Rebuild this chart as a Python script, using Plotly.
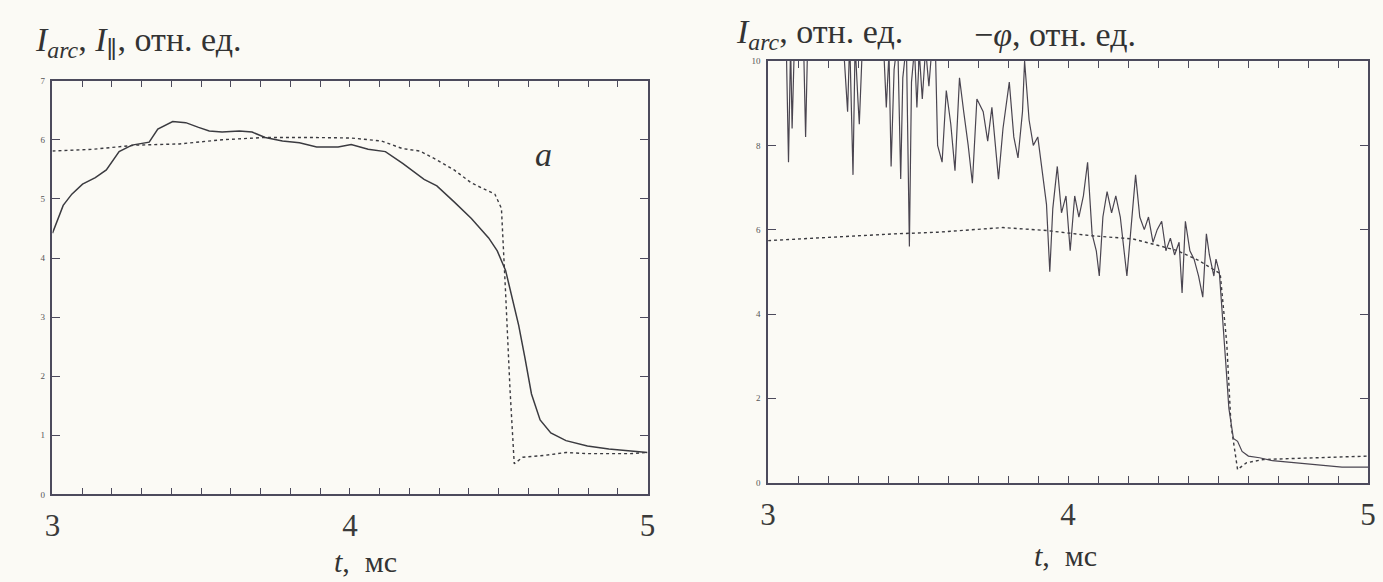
import plotly.graph_objects as go

# ---------- data ----------
# panel a: I_arc (solid) and I_|| (dashed), relative units, t in ms
t_arc_a = [3.000, 3.036, 3.065, 3.101, 3.144, 3.181, 3.224, 3.267, 3.325, 3.354,
           3.404, 3.448, 3.491, 3.527, 3.570, 3.628, 3.671, 3.715, 3.773, 3.830,
           3.888, 3.960, 4.004, 4.061, 4.119, 4.177, 4.249, 4.292, 4.350, 4.408,
           4.466, 4.495, 4.523, 4.545, 4.567, 4.588, 4.610, 4.639, 4.675, 4.726,
           4.798, 4.870, 4.942, 5.000]
i_arc_a = [4.42, 4.89, 5.08, 5.25, 5.36, 5.49, 5.80, 5.91, 5.96, 6.18,
           6.31, 6.29, 6.21, 6.15, 6.13, 6.15, 6.13, 6.04, 5.98, 5.95,
           5.88, 5.88, 5.92, 5.84, 5.80, 5.60, 5.33, 5.22, 4.95, 4.67,
           4.34, 4.12, 3.79, 3.30, 2.86, 2.31, 1.70, 1.26, 1.04, 0.91,
           0.82, 0.77, 0.73, 0.71]

t_par_a = [3.000, 3.137, 3.282, 3.426, 3.570, 3.715, 3.859, 4.004, 4.105, 4.177,
           4.235, 4.292, 4.350, 4.408, 4.487, 4.509, 4.523, 4.538, 4.552, 4.581,
           4.653, 4.726, 4.798, 4.870, 4.942, 5.000]
i_par_a = [5.81, 5.84, 5.91, 5.93, 6.00, 6.04, 6.04, 6.03, 5.98, 5.85,
           5.81, 5.66, 5.49, 5.27, 5.08, 4.84, 3.41, 1.76, 0.52, 0.63,
           0.66, 0.71, 0.69, 0.69, 0.69, 0.71]

# panel b: I_arc (solid, noisy) and -phi (dashed)
t_arc_b = [3.000, 3.060, 3.068, 3.075, 3.080, 3.088, 3.118, 3.125, 3.132, 3.250,
           3.265, 3.272, 3.283, 3.290, 3.300, 3.304, 3.315, 3.384, 3.394, 3.403,
           3.410, 3.420, 3.432, 3.442, 3.449, 3.461, 3.471, 3.478, 3.488, 3.496,
           3.504, 3.514, 3.525, 3.536, 3.548, 3.558, 3.565, 3.580, 3.594, 3.609,
           3.623, 3.638, 3.652, 3.667, 3.681, 3.696, 3.717, 3.732, 3.746, 3.768,
           3.783, 3.804, 3.819, 3.833, 3.848, 3.855, 3.870, 3.884, 3.899, 3.913,
           3.928, 3.939, 3.949, 3.964, 3.978, 3.993, 4.007, 4.022, 4.036, 4.051,
           4.065, 4.080, 4.094, 4.104, 4.116, 4.130, 4.145, 4.159, 4.174, 4.196,
           4.210, 4.225, 4.239, 4.254, 4.268, 4.283, 4.297, 4.312, 4.326, 4.341,
           4.355, 4.370, 4.380, 4.391, 4.406, 4.420, 4.435, 4.449, 4.461, 4.471,
           4.486, 4.493, 4.504, 4.514, 4.525, 4.536, 4.551, 4.565, 4.580, 4.601,
           4.638, 4.681, 4.725, 4.768, 4.826, 4.870, 4.913, 5.000]
i_arc_b = [10.6, 10.6, 7.6, 10.4, 8.4, 10.5, 10.5, 8.2, 10.5, 10.5,
           8.8, 10.5, 7.3, 10.4, 9.0, 8.5, 10.5, 10.5, 8.9, 10.2,
           7.5, 9.8, 10.5, 7.2, 9.6, 10.4, 5.6, 9.5, 10.3, 8.9,
           10.2, 9.1, 10.3, 9.4, 10.5, 10.2, 8.0, 7.6, 9.3, 8.5,
           7.4, 9.6, 8.8, 8.0, 7.1, 9.1, 8.8, 8.1, 8.9, 7.2,
           8.4, 9.5, 8.2, 7.7, 8.8, 10.0, 8.6, 8.0, 8.2, 7.4,
           6.6, 5.0, 6.5, 7.5, 6.4, 6.8, 5.5, 6.8, 6.3, 6.8,
           7.6, 5.9, 5.5, 4.9, 6.3, 6.9, 6.4, 6.8, 6.3, 4.9,
           6.0, 7.3, 6.3, 6.0, 6.3, 5.7, 6.0, 6.2, 5.5, 5.8,
           5.4, 5.7, 4.5, 6.2, 5.5, 5.3, 4.9, 4.4, 5.9, 5.4,
           4.9, 5.3, 5.0, 4.1, 2.9, 1.76, 1.05, 0.98, 0.74, 0.63,
           0.59, 0.52, 0.49, 0.47, 0.43, 0.39, 0.37, 0.37]

t_phi_b = [3.000, 3.203, 3.420, 3.565, 3.710, 3.783, 3.928, 4.072, 4.217, 4.362,
           4.435, 4.507, 4.529, 4.543, 4.565, 4.594, 4.652, 4.797, 5.000]
phi_b = [5.74, 5.82, 5.90, 5.94, 6.02, 6.05, 5.98, 5.86, 5.78, 5.51,
         5.27, 4.96, 3.30, 1.37, 0.31, 0.47, 0.55, 0.59, 0.63]

x_ticks = [3, 4, 5]
y_ticks_a = [0, 1, 2, 3, 4, 5, 6, 7]
y_ticks_b = [0, 2, 4, 6, 8, 10]

# ---------- styling ----------
W, H = 1383, 582
BG = "#fbfaf5"
INK = "#3b3b40"
AXC = "#4c4a5c"
SERIF = "Liberation Serif, DejaVu Serif, serif"

fig = go.Figure()
fig.add_trace(go.Scatter(x=t_par_a, y=i_par_a, mode="lines", xaxis="x", yaxis="y",
                         line=dict(color=INK, width=1.4, dash="3px,3px")))
fig.add_trace(go.Scatter(x=t_arc_a, y=i_arc_a, mode="lines", xaxis="x", yaxis="y",
                         line=dict(color=INK, width=1.5)))
fig.add_trace(go.Scatter(x=t_phi_b, y=phi_b, mode="lines", xaxis="x2", yaxis="y2",
                         line=dict(color=INK, width=1.4, dash="3px,3px")))
fig.add_trace(go.Scatter(x=t_arc_b, y=i_arc_b, mode="lines", xaxis="x2", yaxis="y2",
                         line=dict(color="#4a4550", width=1.2)))


def xax(domain, anchor):
    return dict(domain=domain, anchor=anchor, range=[3, 5], tickvals=x_ticks,
                ticktext=[str(v) for v in x_ticks], ticks="inside", ticklen=7,
                tickcolor=AXC, tickwidth=1, showline=True, linecolor=AXC, linewidth=1.6,
                mirror="ticks", showgrid=False, zeroline=False,
                minor=dict(dtick=0.1, ticks="inside", ticklen=7, tickcolor=AXC, showgrid=False),
                tickfont=dict(family=SERIF, size=31, color="#3a3a3a"), ticklabelstandoff=3)


def yax(domain, anchor, rng, vals):
    return dict(domain=domain, anchor=anchor, range=rng, tickvals=vals,
                ticks="inside", ticklen=8, tickcolor=AXC, tickwidth=1, showline=True,
                linecolor=AXC, linewidth=1.6, mirror="ticks", showgrid=False, zeroline=False,
                tickfont=dict(family=SERIF, size=9, color="#555"), ticklabelstandoff=4)


fig.update_layout(
    width=W, height=H, margin=dict(l=0, r=0, t=0, b=0),
    paper_bgcolor=BG, plot_bgcolor=BG, showlegend=False,
    xaxis=xax([45 / W, 647 / W], "y"),
    yaxis=yax([1 - 498 / H, 1 - 77 / H], "x", [0, 7], y_ticks_a),
    xaxis2=xax([769 / W, 1376 / W], "y2"),
    yaxis2=yax([1 - 486 / H, 1 - 57 / H], "x2", [0, 10], y_ticks_b),
)

ann = [
    dict(text="<i>I</i><sub><i>arc</i></sub>, <i>I</i><sub><i>∥</i></sub>, отн. ед.",
         x=25 / W, y=1 - 38 / H, xanchor="left", yanchor="middle", font=dict(size=34)),
    dict(text="<i>I</i><sub><i>arc</i></sub>, отн. ед.",
         x=735 / W, y=1 - 30 / H, xanchor="left", yanchor="middle", font=dict(size=34)),
    dict(text="−<i>φ</i>, отн. ед.",
         x=975 / W, y=1 - 30 / H, xanchor="left", yanchor="middle", font=dict(size=34)),
    dict(text="<i>t</i>,  мс", x=362 / W, y=1 - 566 / H, xanchor="center", yanchor="middle",
         font=dict(size=30)),
    dict(text="<i>t</i>,  мс", x=1070 / W, y=1 - 560 / H, xanchor="center", yanchor="middle",
         font=dict(size=30)),
]
for a in ann:
    a.update(xref="paper", yref="paper", showarrow=False)
    a["font"].update(family=SERIF, color="#333")
    fig.add_annotation(**a)
fig.add_annotation(text="<i>a</i>", x=4.65, y=5.75, xref="x", yref="y", showarrow=False,
                   font=dict(family=SERIF, size=34, color="#333"))

fig.write_html("out.html", config={"displayModeBar": False},
               post_script="document.body.style.margin='0';")
